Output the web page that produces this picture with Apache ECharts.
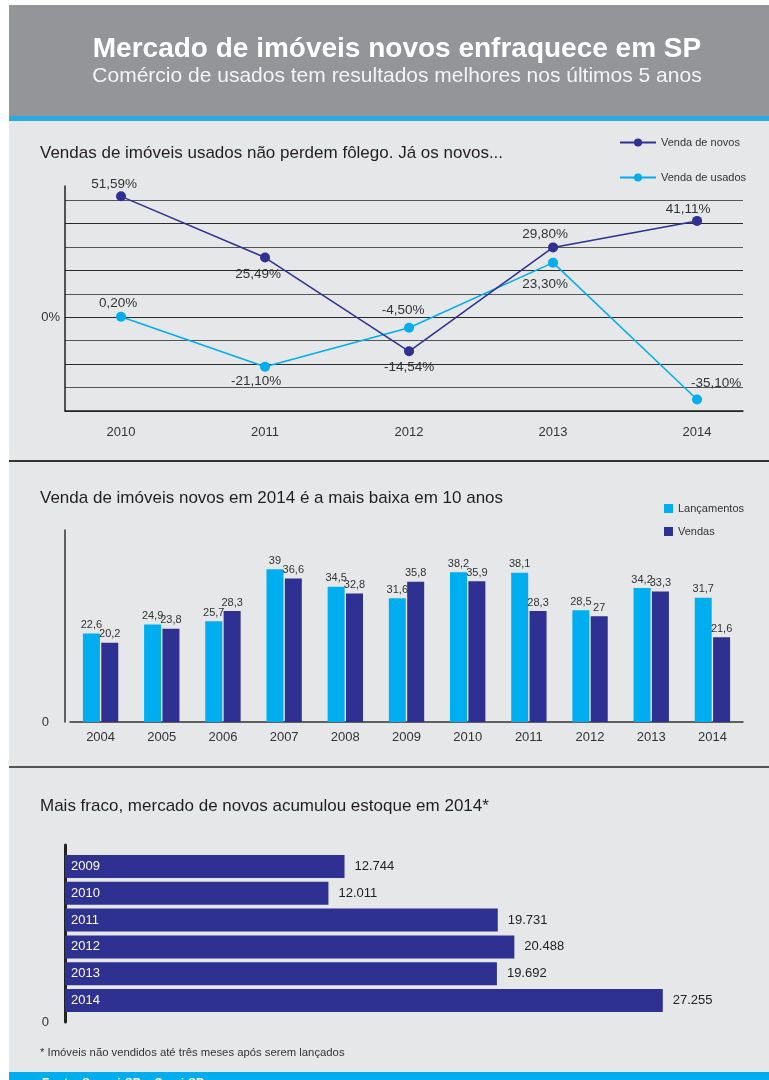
<!DOCTYPE html>
<html>
<head>
<meta charset="utf-8">
<script src="https://cdn.jsdelivr.net/npm/echarts@6/dist/echarts.min.js"></script>
<style>
  html, body { margin: 0; padding: 0; background: #fff; }
  #page { position: relative; width: 769px; height: 1080px; overflow: hidden; }
  .band { position: absolute; left: 9px; width: 760px; }
  .header { top: 5px; height: 111px; background: #939598; }
  .stripe { top: 116px; height: 5px; background: #29abe2; }
  .panel { top: 121px; height: 951px; background: #e6e7e8; }
  .rule { height: 2px; background: #333; }
  .footer { top: 1072px; height: 8px; background: #00aeef; }
  #chart { position: absolute; left: 0; top: 0; width: 769px; height: 1080px; }
</style>
</head>
<body>
<div id="page">
  <div class="band header"></div>
  <div class="band stripe"></div>
  <div class="band panel"></div>
  <div class="band rule" style="top:460px"></div>
  <div class="band rule" style="top:766px;background:#555"></div>
  <div class="band footer"></div>
  <div id="chart"></div>
</div>
<script>
// variação anual das vendas (%)
const lineYears = [2010, 2011, 2012, 2013, 2014]
const novos = [51.59, 25.49, -14.54, 29.80, 41.11]
const usados = [0.20, -21.10, -4.50, 23.30, -35.10]

// lançamentos x vendas (mil unidades)
const barYears = ['2004', '2005', '2006', '2007', '2008', '2009', '2010', '2011', '2012', '2013', '2014']
const lancamentos = [22.6, 24.9, 25.7, 39, 34.5, 31.6, 38.2, 38.1, 28.5, 34.2, 31.7]
const vendas = [20.2, 23.8, 28.3, 36.6, 32.8, 35.8, 35.9, 28.3, 27, 33.3, 21.6]

// estoque de imóveis novos
const stockYears = ['2009', '2010', '2011', '2012', '2013', '2014']
const estoque = [12744, 12011, 19731, 20488, 19692, 27255]

// label placement (style only)
const novosPos = ['top', 'bottom', 'bottom', 'top', 'top']
const novosOff = [[-7, 3], [-7, 2], [0, 1], [-8, 2], [-9, 3]]
const usadosPos = ['top', 'bottom', 'top', 'bottom', 'top']
const usadosOff = [[-3, 1], [-9, 0], [-6, -3], [-8, 7], [19, -1]]

const NAVY = '#2e3192'
const CYAN = '#00aeef'
const INK = '#333'
const FONT = '"Liberation Sans", Arial, sans-serif'

const pct = v => v.toFixed(2).replace('.', ',') + '%'
const dec = v => String(v).replace('.', ',')
const milhar = v => String(v).replace(/\B(?=(\d{3})+(?!\d))/g, '.')

function lineData(vals, pos, off) {
  return vals.map((v, i) => ({
    value: [lineYears[i], v],
    label: { position: pos[i], offset: off[i] },
  }))
}

const chart = echarts.init(document.getElementById('chart'))

chart.setOption({
  backgroundColor: 'transparent',
  animation: false,
  textStyle: { fontFamily: FONT },
  title: [
    { text: 'Mercado de imóveis novos enfraquece em SP', left: 397, top: 35, textAlign: 'center', padding: 0,
      textStyle: { fontSize: 28, fontWeight: 'bold', color: '#fff', fontFamily: FONT } },
    { text: 'Comércio de usados tem resultados melhores nos últimos 5 anos', left: 397, top: 66, textAlign: 'center', padding: 0,
      textStyle: { fontSize: 21, fontWeight: 'normal', color: '#f4f4f4', fontFamily: FONT } },
    { text: 'Vendas de imóveis usados não perdem fôlego. Já os novos...', left: 40, top: 145, padding: 0,
      textStyle: { fontSize: 17, fontWeight: 'normal', color: '#231f20', fontFamily: FONT } },
    { text: 'Venda de imóveis novos em 2014 é a mais baixa em 10 anos', left: 40, top: 490, padding: 0,
      textStyle: { fontSize: 17, fontWeight: 'normal', color: '#231f20', fontFamily: FONT } },
    { text: 'Mais fraco, mercado de novos acumulou estoque em 2014*', left: 40, top: 798, padding: 0,
      textStyle: { fontSize: 17, fontWeight: 'normal', color: '#231f20', fontFamily: FONT } },
    { text: '* Imóveis não vendidos até três meses após serem lançados', left: 40, top: 1047, padding: 0,
      textStyle: { fontSize: 11.3, fontWeight: 'normal', color: INK, fontFamily: FONT } },
    { text: 'Fonte: Secovi-SP e Creci-SP', left: 42, top: 1078, padding: 0,
      textStyle: { fontSize: 12, fontWeight: 'bold', color: '#fff', fontFamily: FONT } },
  ],
  legend: [
    {
      data: ['Venda de novos', 'Venda de usados'],
      orient: 'vertical', left: 614, top: 132,
      itemWidth: 36, itemHeight: 10, itemGap: 24,
      textStyle: { fontSize: 11, color: INK },
    },
    {
      data: ['Lançamentos', 'Vendas'],
      orient: 'vertical', left: 659, top: 498,
      icon: 'rect', itemWidth: 9, itemHeight: 9, itemGap: 12,
      textStyle: { fontSize: 11, color: INK },
    },
  ],
  grid: [
    { left: 65, top: 186, width: 678, height: 225 },
    { left: 70, top: 530, width: 673, height: 192 },
    { left: 65, top: 853, width: 658, height: 161 },
    { left: 65, top: 845, width: 10, height: 177 },
  ],
  xAxis: [
    {
      gridIndex: 0, type: 'value', min: 2009.611, max: 2014.319,
      axisLine: { show: true, onZero: false, lineStyle: { color: '#222', width: 1.5 } },
      axisTick: { show: false },
      splitLine: { show: false },
      axisLabel: { customValues: lineYears, formatter: v => String(v), fontSize: 13, color: INK, margin: 15 },
    },
    {
      gridIndex: 1, type: 'category', data: barYears,
      axisLine: { lineStyle: { color: '#333', width: 1.5 } },
      axisTick: { show: false },
      axisLabel: { fontSize: 13, color: INK, margin: 9 },
    },
    { gridIndex: 2, type: 'value', min: 0, max: 30000, show: false },
    { gridIndex: 3, type: 'value', show: false },
  ],
  yAxis: [
    {
      gridIndex: 0, type: 'value', min: -40, max: 56, interval: 10,
      axisLine: { show: true, onZero: false, lineStyle: { color: '#222', width: 1.5 } },
      axisTick: { show: false },
      splitLine: { showMaxLine: false, lineStyle: { color: ['#2a2a2a', '#555'], width: 1.2 } },
      axisLabel: { formatter: v => (v === 0 ? '0%' : ''), fontSize: 13, color: INK, margin: 5 },
    },
    {
      gridIndex: 1, type: 'value', min: 0, max: 49, offset: 5,
      axisLine: { show: true, lineStyle: { color: '#333', width: 1.5 } },
      axisTick: { show: false },
      splitLine: { show: false },
      axisLabel: { customValues: [0], fontSize: 13, color: INK, margin: 16 },
    },
    {
      gridIndex: 2, type: 'category', data: stockYears, inverse: true, z: 10,
      axisLine: { show: false },
      axisTick: { show: false },
      axisLabel: { inside: true, color: '#fff', fontSize: 13, margin: 6 },
    },
    {
      gridIndex: 3, type: 'value', min: 0, max: 1,
      axisLine: { show: true, lineStyle: { color: '#222', width: 3 } },
      axisTick: { show: false },
      splitLine: { show: false },
      axisLabel: { customValues: [0], formatter: () => '0', fontSize: 13, color: INK, margin: 16 },
    },
  ],
  series: [
    {
      name: 'Venda de novos', type: 'line', xAxisIndex: 0, yAxisIndex: 0,
      data: lineData(novos, novosPos, novosOff),
      symbol: 'circle', symbolSize: 10,
      itemStyle: { color: NAVY },
      lineStyle: { color: NAVY, width: 1.5 },
      label: { show: true, distance: 3, fontSize: 13.5, color: INK, formatter: p => pct(p.value[1]) },
      z: 3,
    },
    {
      name: 'Venda de usados', type: 'line', xAxisIndex: 0, yAxisIndex: 0,
      data: lineData(usados, usadosPos, usadosOff),
      symbol: 'circle', symbolSize: 10,
      itemStyle: { color: CYAN },
      lineStyle: { color: CYAN, width: 1.5 },
      label: { show: true, distance: 3, fontSize: 13.5, color: INK, formatter: p => pct(p.value[1]) },
      z: 2,
    },
    {
      name: 'Lançamentos', type: 'bar', xAxisIndex: 1, yAxisIndex: 1,
      data: lancamentos, barWidth: 17, barGap: '8%',
      itemStyle: { color: CYAN },
      label: { show: true, position: 'top', distance: 3, fontSize: 11, color: INK, formatter: p => dec(p.value) },
    },
    {
      name: 'Vendas', type: 'bar', xAxisIndex: 1, yAxisIndex: 1,
      data: vendas, barWidth: 17,
      itemStyle: { color: NAVY },
      label: { show: true, position: 'top', distance: 3, fontSize: 11, color: INK, formatter: p => dec(p.value) },
    },
    {
      name: 'Estoque', type: 'bar', xAxisIndex: 2, yAxisIndex: 2,
      data: estoque, barWidth: 23,
      itemStyle: { color: NAVY },
      label: { show: true, position: 'right', distance: 10, fontSize: 13, color: '#222', formatter: p => milhar(p.value) },
    },
  ],
})
</script>
</body>
</html>
